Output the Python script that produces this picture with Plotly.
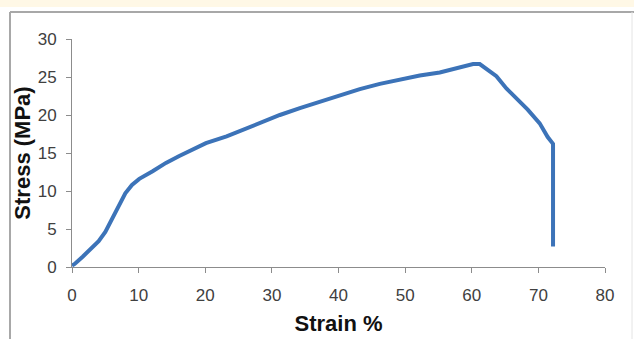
import plotly.graph_objects as go

# Data
strain = [0, 0.4, 1.6, 3.1, 4.0, 5.0, 6.0, 7.0, 8.0, 9.0, 10.1, 12.1, 14.1, 16.1, 18.1,
          20.1, 23.2, 26.2, 28.2, 31.2, 34.2, 37.2, 40.2, 43.2, 46.2, 49.2, 52.2,
          55.2, 58.2, 60.2, 61.2, 62.2, 63.7, 65.2, 66.7, 68.4, 70.2, 71.4, 72.2, 72.2]
stress = [0.2, 0.4, 1.35, 2.6, 3.4, 4.6, 6.3, 8.1, 9.7, 10.8, 11.6, 12.6, 13.7, 14.6, 15.5,
          16.3, 17.2, 18.25, 18.9, 20.0, 20.9, 21.75, 22.5, 23.4, 24.1, 24.7, 25.2,
          25.6, 26.2, 26.7, 26.7, 26.1, 25.1, 23.5, 22.2, 20.7, 18.9, 17.1, 16.2, 2.7]

x_ticks = [0, 10, 20, 30, 40, 50, 60, 70, 80]
y_ticks = [0, 5, 10, 15, 20, 25, 30]

W, H = 634, 339
L, R, T, B = 72, 29, 39, 72
pw, ph = W - L - R, H - T - B

def px(x):
    return (x - L) / pw

def py(y):
    return (H - B - y) / ph

fig = go.Figure()
fig.add_trace(go.Scatter(
    x=strain, y=stress, mode="lines",
    line=dict(color="#3C73B8", width=4),
    hoverinfo="skip", showlegend=False,
))

axis_common = dict(
    showgrid=False, zeroline=False, showline=True, linecolor="#8C8C8C", linewidth=1,
    ticks="outside", ticklen=5, tickcolor="#8C8C8C",
    tickfont=dict(family="Liberation Sans, Arial, sans-serif", size=17, color="#404040"),
)

fig.update_layout(
    width=W, height=H,
    margin=dict(l=L, r=R, t=T, b=B, autoexpand=False),
    paper_bgcolor="white", plot_bgcolor="white",
    xaxis=dict(range=[0, 80], tickvals=x_ticks, ticklabelstandoff=8, **axis_common,
               title=dict(text="<b>Strain %</b>", standoff=11,
                          font=dict(family="Liberation Sans, Arial, sans-serif", size=22, color="#111111"))),
    yaxis=dict(range=[0, 30], tickvals=y_ticks, ticklabelstandoff=6, **axis_common,
               title=dict(text="<b>Stress (MPa)</b>", standoff=0,
                          font=dict(family="Liberation Sans, Arial, sans-serif", size=22, color="#111111"))),
    shapes=[
        dict(type="rect", xref="paper", yref="paper", x0=px(0), x1=px(W), y0=py(0), y1=py(7),
             fillcolor="#FFF8E6", line=dict(width=0), layer="below"),
        dict(type="line", xref="paper", yref="paper", x0=px(10), x1=px(W), y0=py(12), y1=py(12),
             line=dict(color="#A8A8A8", width=2)),
        dict(type="line", xref="paper", yref="paper", x0=px(10), x1=px(10), y0=py(12), y1=py(H + 5),
             line=dict(color="#A8A8A8", width=2)),
        dict(type="line", xref="paper", yref="paper", x0=px(632), x1=px(632), y0=py(12), y1=py(H + 5),
             line=dict(color="#E4E4E4", width=1)),
    ],
)

fig.write_html("out.html")
